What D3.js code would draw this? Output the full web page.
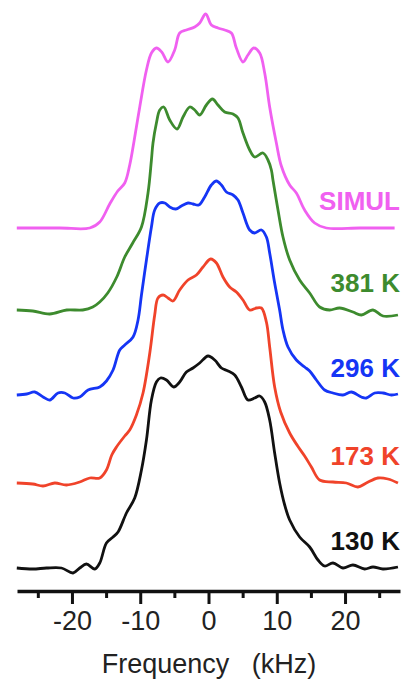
<!DOCTYPE html>
<html>
<head>
<meta charset="utf-8">
<script src="https://cdn.jsdelivr.net/npm/d3@7"></script>
<style>
  body { margin: 0; background: #fff; }
  svg { display: block; font-family: "Liberation Sans", Arial, sans-serif; }
</style>
</head>
<body>
<div id="target"></div>
<script>
// spectra: [frequency (kHz), intensity (a.u.)]
const simul = [[-28.08,0],[-21.79,0],[-17.39,0],[-15.93,0.06],[-14.47,0.24],[-13.29,0.37],[-12.27,0.45],
  [-11.54,0.63],[-10.95,0.85],[-10.07,1.21],[-9.09,1.58],[-8.36,1.75],[-7.63,1.80],[-6.85,1.76],[-5.93,1.66],
  [-4.95,1.78],[-4.22,1.95],[-3.24,1.98],[-2.02,2.01],[-1.29,2.05],[-0.41,2.14],[0.42,2.03],[1.39,2.00],
  [2.37,1.98],[3.35,1.95],[4.08,1.80],[5.05,1.66],[5.78,1.73],[6.62,1.80],[7.50,1.75],[8.23,1.55],[8.96,1.21],
  [9.94,0.85],[10.67,0.62],[11.89,0.43],[12.87,0.35],[14.08,0.18],[15.55,0.05],[17.26,0],[22.14,0],[27.26,0]];

const k381 = [[-28.08,0],[-25.74,-0.01],[-23.25,-0.04],[-20.76,0],[-18.42,0],[-16.95,0.03],[-15.93,0.08],
  [-14.76,0.17],[-13.44,0.33],[-12.27,0.53],[-11.10,0.67],[-9.82,0.83],[-8.86,1.17],[-8.36,1.50],[-8.13,1.67],
  [-7.63,1.87],[-7.14,2.00],[-6.56,2.03],[-5.68,1.90],[-4.61,1.81],[-3.73,1.93],[-2.75,2.03],[-2.02,2.00],
  [-1.29,1.95],[-0.31,2.05],[0.57,2.11],[1.39,2.05],[2.37,1.98],[3.59,1.96],[4.32,1.92],[5.05,1.77],[6.03,1.60],
  [6.76,1.53],[7.98,1.57],[8.71,1.50],[9.21,1.40],[9.44,1.30],[10.18,1.00],[10.91,0.73],[11.89,0.50],
  [13.35,0.30],[14.82,0.17],[16.28,0.03],[17.74,0],[19.21,0.02],[21.16,-0.02],[22.39,-0.05],[24.09,0],
  [25.55,-0.06],[27.75,-0.05]];

const k296 = [[-28.08,0],[-26.62,0.01],[-25.45,0.03],[-24.23,-0.02],[-23.25,-0.05],[-22.04,0.02],[-21.05,0.02],
  [-19.84,-0.03],[-18.86,-0.02],[-17.64,0.05],[-15.93,0.08],[-14.95,0.14],[-13.98,0.25],[-13.00,0.45],
  [-12.27,0.50],[-11.05,0.58],[-10.32,0.75],[-9.82,1.00],[-9.09,1.35],[-8.36,1.68],[-7.88,1.85],[-7.14,1.92],
  [-6.41,1.92],[-5.68,1.88],[-4.80,1.86],[-3.97,1.89],[-3.00,1.92],[-2.27,1.91],[-1.43,1.90],[-0.56,1.98],
  [0.42,2.10],[1.16,2.14],[1.89,2.10],[2.62,2.03],[3.59,2.00],[4.32,1.95],[5.05,1.82],[6.03,1.65],[6.76,1.62],
  [7.75,1.65],[8.48,1.58],[8.96,1.42],[9.69,1.12],[10.42,0.85],[10.91,0.65],[11.64,0.48],[12.87,0.35],
  [14.08,0.28],[14.82,0.24],[15.80,0.15],[17.01,0.05],[18.23,0.02],[19.69,0],[20.92,0.03],[22.39,-0.02],
  [23.12,-0.03],[24.34,0.02],[25.55,0.02],[26.78,0],[27.75,0.01]];

const k173 = [[-28.08,0],[-25.74,-0.01],[-24.23,-0.03],[-22.52,0],[-20.81,-0.02],[-18.86,0.01],[-17.39,0.05],
  [-15.93,0.05],[-14.95,0.13],[-14.17,0.28],[-13.48,0.36],[-12.27,0.47],[-11.54,0.53],[-10.56,0.68],
  [-9.59,0.90],[-8.60,1.30],[-7.88,1.68],[-7.40,1.85],[-6.66,1.88],[-5.93,1.85],[-5.20,1.82],[-4.22,1.93],
  [-3.00,2.03],[-1.77,2.08],[-0.81,2.16],[0.32,2.24],[1.16,2.20],[2.12,2.06],[3.10,1.96],[4.08,1.91],
  [5.05,1.83],[6.03,1.73],[7.01,1.75],[7.75,1.75],[8.48,1.61],[8.96,1.36],[9.69,0.96],[10.57,0.71],
  [11.89,0.50],[13.06,0.37],[14.08,0.27],[15.07,0.16],[16.28,0.03],[18.23,0.01],[20.19,0],[21.89,-0.04],
  [23.12,0],[24.82,0.05],[26.28,0.04],[27.75,0]];

const k130 = [[-28.08,0],[-25.74,-0.01],[-23.73,0],[-21.54,0],[-19.84,-0.05],[-18.86,0],[-17.88,0.04],
  [-16.66,-0.01],[-15.93,0.05],[-14.95,0.25],[-13.98,0.31],[-13.25,0.36],[-12.02,0.55],[-10.81,0.70],
  [-9.82,0.98],[-9.09,1.28],[-8.36,1.68],[-7.63,1.86],[-7.04,1.90],[-6.16,1.88],[-5.10,1.81],[-4.22,1.86],
  [-3.24,1.96],[-2.27,2.00],[-1.29,2.05],[-0.07,2.12],[0.91,2.08],[1.89,2.00],[2.86,1.97],[3.84,1.93],
  [4.82,1.81],[5.78,1.68],[6.76,1.70],[7.50,1.72],[8.23,1.66],[8.96,1.48],[9.69,1.15],[10.42,0.85],
  [11.16,0.63],[11.89,0.48],[13.35,0.31],[14.82,0.21],[16.04,0.08],[17.01,0.02],[18.23,0.05],[19.69,0],
  [21.16,0.03],[22.87,-0.01],[24.09,0.01],[25.55,-0.01],[27.75,0.01]];

const labels = ["SIMUL", "381 K", "296 K", "173 K", "130 K"];
const offsets = [3.40, 2.58, 1.73, 0.85, 0];   // vertical stacking, a.u.
const majorTicks = [-20, -10, 0, 10, 20];
const minorTicks = [-25, -15, -5, 5, 15, 25];

const colors = ["#f060f0", "#3d8b2e", "#1535f5", "#f0432a", "#111111"];
const spectra = [simul, k381, k296, k173, k130];

const width = 403,
  height = 681;

const x = d3.scaleLinear().domain([-28.05, 28.05]).range([17, 400]);
const y = d3.scaleLinear().domain([0, 5.68]).range([568, 0]);

const svg = d3.select("#target").append("svg")
  .attr("width", width)
  .attr("height", height);

spectra.forEach((s, i) => {
  const line = d3.line()
    .x(d => x(d[0]))
    .y(d => y(d[1] + offsets[i]))
    .curve(d3.curveCatmullRom.alpha(0.5));

  svg.append("path")
    .datum(s)
    .attr("d", line)
    .attr("fill", "none")
    .attr("stroke", colors[i])
    .attr("stroke-width", 2.8)
    .attr("stroke-linejoin", "round");

  svg.append("text")
    .attr("x", 400)
    .attr("y", y(offsets[i]) - 18)
    .attr("text-anchor", "end")
    .attr("font-size", 26)
    .attr("font-weight", "bold")
    .attr("fill", colors[i])
    .text(labels[i]);
});

// frequency axis
const axisY = 591;

svg.append("g")
  .attr("transform", `translate(0,${axisY})`)
  .call(d3.axisBottom(x).tickValues(minorTicks).tickSize(7).tickFormat(""))
  .call(g => g.select(".domain").remove())
  .call(g => g.selectAll("line").attr("stroke", "#111").attr("stroke-width", 3));

const xAxis = svg.append("g")
  .attr("transform", `translate(0,${axisY})`)
  .call(d3.axisBottom(x)
    .tickValues(majorTicks)
    .tickSize(13)
    .tickSizeOuter(0)
    .tickPadding(7)
    .tickFormat(d => String(d)));

xAxis.select(".domain").attr("stroke", "#111").attr("stroke-width", 3.5);
xAxis.selectAll(".tick line").attr("stroke", "#111").attr("stroke-width", 3);
xAxis.selectAll(".tick text")
  .attr("font-size", 27)
  .attr("font-family", "Liberation Sans, Arial, sans-serif")
  .attr("fill", "#222");

svg.append("text")
  .attr("x", 209)
  .attr("y", 673)
  .attr("text-anchor", "middle")
  .attr("font-size", 27)
  .attr("fill", "#222")
  .style("white-space", "pre")
  .text("Frequency   (kHz)");
</script>
</body>
</html>
